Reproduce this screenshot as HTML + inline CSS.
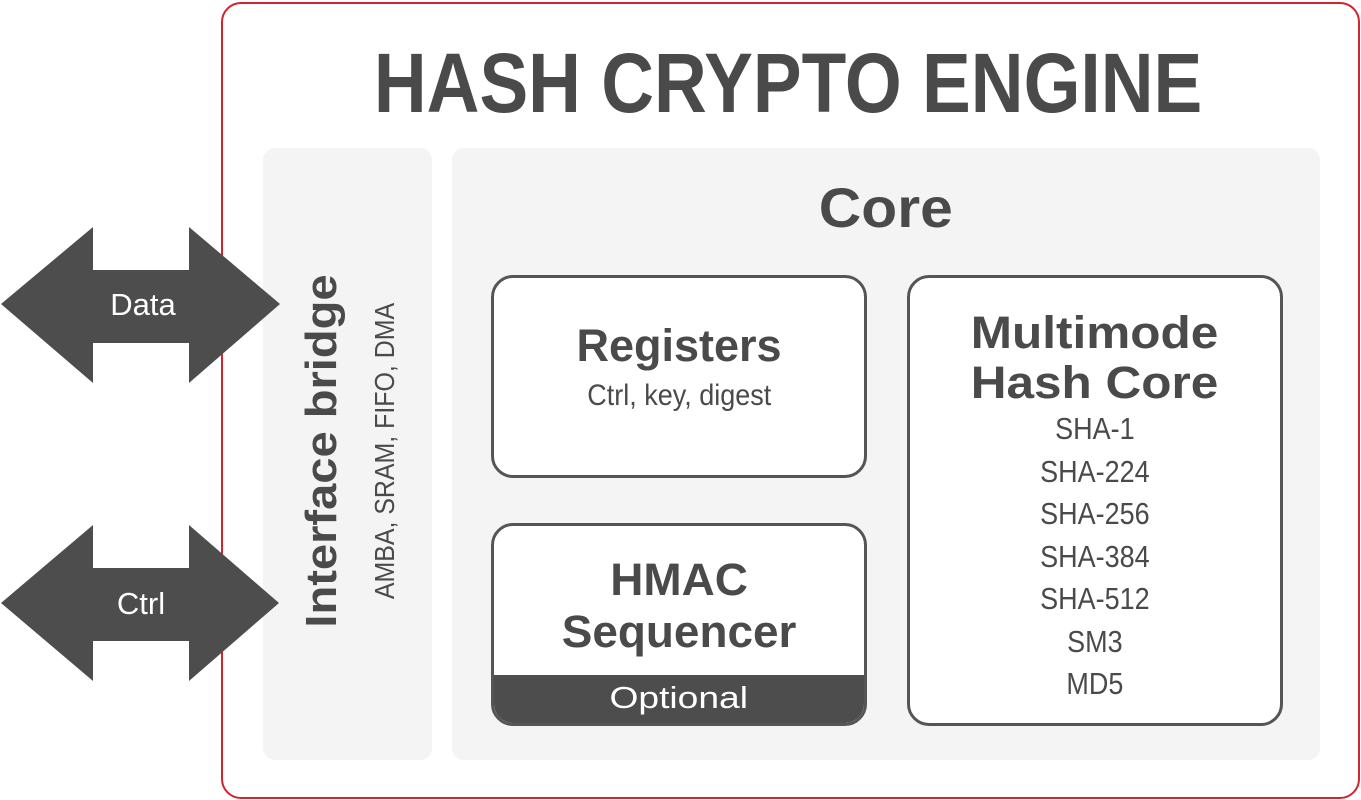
<!DOCTYPE html>
<html><head><meta charset="utf-8"><style>
body{margin:0;width:1361px;height:800px;background:#fff;position:relative;overflow:hidden;font-family:"Liberation Sans",sans-serif;color:#4a4a4a}
.a{position:absolute}
.box{position:absolute;border:3px solid #555;border-radius:22px;background:#fff;box-sizing:border-box;overflow:hidden;text-align:center}
.c{display:inline-block;transform:scaleX(.86);transform-origin:center}
</style></head><body>
<div class="a" style="left:221px;top:2px;width:1135px;height:793px;border:2px solid #d3232e;border-radius:20px"></div>
<div class="a" style="left:221px;top:38px;width:1135px;text-align:center;font-size:84px;font-weight:bold;line-height:90px"><span class="c" style="transform:scaleX(.87)">HASH CRYPTO ENGINE</span></div>
<div class="a" style="left:263px;top:148px;width:169px;height:612px;background:#f4f4f4;border-radius:12px"></div>
<div class="a" style="left:452px;top:148px;width:868px;height:612px;background:#f4f4f4;border-radius:12px"></div>
<div class="a" style="left:452px;top:176px;width:868px;text-align:center;font-size:56px;font-weight:bold;line-height:64px"><span class="c" style="transform:scaleX(1.05)">Core</span></div>
<svg class="a" style="left:0;top:0" width="300" height="800">
<polygon points="1,304 93,227 93,270 189,270 189,227 280,304 189,383 189,343 93,343 93,383" fill="#4d4d4d"/>
<polygon points="1,603 93,525 93,568 189,568 189,525 279,603 189,681 189,641 93,641 93,681" fill="#4d4d4d"/>
<text x="143" y="315" fill="#fff" font-size="31" text-anchor="middle" font-family="Liberation Sans">Data</text>
<text x="141" y="614" fill="#fff" font-size="31" text-anchor="middle" font-family="Liberation Sans">Ctrl</text>
</svg>
<div class="a" style="left:322px;top:451px;width:0;height:0">
<div class="a" style="left:-200px;top:-25px;width:400px;text-align:center;font-size:44px;font-weight:bold;line-height:50px;transform:rotate(-90deg) scaleX(1.07);white-space:nowrap">Interface bridge</div>
</div>
<div class="a" style="left:385px;top:451px;width:0;height:0">
<div class="a" style="left:-200px;top:-17px;width:400px;text-align:center;font-size:28px;line-height:34px;transform:rotate(-90deg) scaleX(.89);white-space:nowrap">AMBA, SRAM, FIFO, DMA</div>
</div>
<div class="box" style="left:491px;top:275px;width:376px;height:203px">
<div style="margin-top:42px;font-size:45px;font-weight:bold;line-height:52px"><span class="c" style="transform:scaleX(1)">Registers</span></div>
<div style="font-size:30px;line-height:36px;margin-top:6px"><span class="c" style="transform:scaleX(.9)">Ctrl, key, digest</span></div>
</div>
<div class="box" style="left:491px;top:523px;width:376px;height:203px">
<div style="margin-top:28px;font-size:45px;font-weight:bold;line-height:52px"><span class="c" style="transform:scaleX(1.02)">HMAC<br>Sequencer</span></div>
<div class="a" style="left:0;bottom:0;width:100%;height:48px;background:#4d4d4d;color:#fff;font-size:31px;line-height:46px"><span class="c" style="transform:scaleX(1.2)">Optional</span></div>
</div>
<div class="box" style="left:907px;top:275px;width:376px;height:451px">
<div style="margin-top:30px;font-size:45px;font-weight:bold;line-height:50px"><span class="c" style="transform:scaleX(1.1)">Multimode<br>Hash Core</span></div>
<div style="font-size:31px;line-height:42.5px;margin-top:0"><span class="c" style="transform:scaleX(.87)">SHA-1<br>SHA-224<br>SHA-256<br>SHA-384<br>SHA-512<br>SM3<br>MD5</span></div>
</div>
</body></html>
